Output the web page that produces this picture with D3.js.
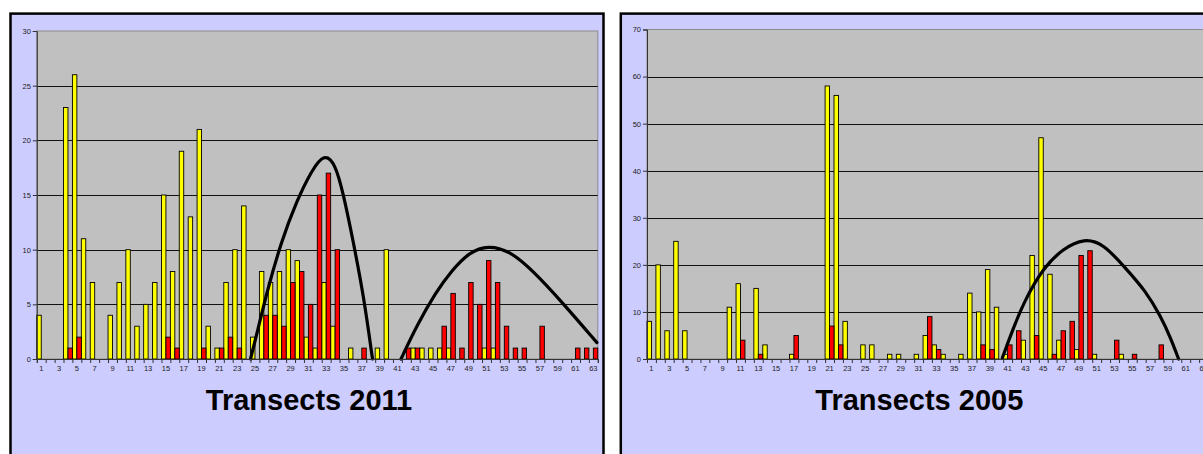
<!DOCTYPE html>
<html lang="en">
<head>
<meta charset="UTF-8"/>
<title>Transects 2011 / 2005</title>
<script src="https://d3js.org/d3.v7.min.js"></script>
<style>
  body { margin: 0; background: #fff; }
  svg text { font-family: "Liberation Sans", Arial, sans-serif; }
</style>
</head>
<body>
<script>
    // transect numbers along the x axis
    var categories = [1,2,3,4,5,6,7,8,9,10,11,12,13,14,15,16,17,18,19,20,
                      21,22,23,24,25,26,27,28,29,30,31,32,33,34,35,36,37,38,39,40,
                      41,42,43,44,45,46,47,48,49,50,51,52,53,54,55,56,57,58,59,60,
                      61,62,63];
    var xLabels = [1,3,5,7,9,11,13,15,17,19,21,23,25,27,29,31,33,35,37,39,41,43,45,47,49,51,53,55,57,59,61,63];
    var yTicks2011 = [0, 5, 10, 15, 20, 25, 30];
    var yTicks2005 = [0, 10, 20, 30, 40, 50, 60, 70];

    // 2011
    var yellow2011 = [4,0,0,23,26,11,7,0,4,7, 10,3,5,7,15,8,19,13,21,3,
                      1,7,10,14,2,8,7,8,10,9, 2,1,7,3,0,1,0,0,1,10,
                      0,0,1,1,1,1,1,0,0,0, 1,1,0,0,0,0,0,0,0,0, 0,0,0];
    var red2011 =    [0,0,0,1,2,0,0,0,0,0, 0,0,0,0,2,1,0,0,1,0,
                      1,2,1,0,0,4,4,3,7,8, 5,15,17,10,0,0,1,0,0,0,
                      0,1,1,0,0,3,6,1,7,5, 9,7,3,1,1,0,3,0,0,0, 1,1,1];
    // 2005
    var yellow2005 = [8,20,6,25,6,0,0,0,0,11, 16,0,15,3,0,0,1,0,0,0,
                      58,56,8,0,3,3,0,1,1,0, 1,5,3,1,0,1,14,10,19,11,
                      1,0,4,22,47,18,4,0,2,0, 1,0,0,1,0,0,0,0,0,0, 0,0,0];
    var red2005 =    [0,0,0,0,0,0,0,0,0,0, 4,0,1,0,0,0,5,0,0,0,
                      7,3,0,0,0,0,0,0,0,0, 0,9,2,0,0,0,0,3,2,0,
                      3,6,0,5,0,1,6,8,22,23, 0,0,4,0,1,0,0,3,0,0, 0,0,0];

    // hand drawn arcs, control points as [transect, count]
    var arc2011a = [[24.5,0],[25.3,2.6],[26.4,6.3],[27.9,10.6],[29.7,14.5],[31.4,17.3],
                    [32.8,18.8],[34.0,17.9],[34.9,15.2],[36.0,10.9],[37.2,5.8],[38.2,0]];
    var arc2011b = [[41.4,0],[43.2,3.1],[45.3,6.1],[47.1,8.1],[49.1,9.8],[51.2,10.4],
                    [53.6,9.9],[56.2,8.1],[59.6,5.1],[63.4,1.5]];
    var arc2005 =  [[40.4,0.2],[41.4,5.4],[42.9,12.5],[45.1,19.6],[47.2,23.4],[49.6,25.7],
                    [51.8,24.4],[54.0,19.8],[56.5,14.5],[58.2,9.0],[59.3,4.5],[60.2,0]];

    var w = 1203, h = 454;
    var base = 359;       // y of the zero line
    var plotW = 561;

    var svg = d3.select("body")
                .append("svg")
                .attr("width", w)
                .attr("height", h);

    function drawPanel(p) {
        var g = svg.append("g");

        g.append("rect")
         .attr("x", p.px).attr("y", 13.6)
         .attr("width", 593).attr("height", 470)
         .attr("fill", "#ccccff")
         .attr("stroke", "#000")
         .attr("stroke-width", 2.5);

        var xScale = d3.scaleBand()
                       .domain(categories)
                       .range([p.x0, p.x0 + plotW])
                       .padding(0);
        var xSub = d3.scaleBand()
                     .domain(["yellow", "red"])
                     .range([0, xScale.bandwidth()]);
        // continuous version of the transect axis for the arcs and ticks
        var xLin = d3.scaleLinear()
                     .domain([0.5, 63.5])
                     .range([p.x0, p.x0 + plotW]);
        var yScale = d3.scaleLinear()
                       .domain([0, p.yMax])
                       .range([base, p.top]);

        // plot area
        g.append("rect")
         .attr("x", p.x0).attr("y", p.top)
         .attr("width", plotW).attr("height", base - p.top)
         .attr("fill", "#c0c0c0")
         .attr("stroke", "#8a8a8a")
         .attr("stroke-width", 1);

        g.selectAll(".grid")
         .data(p.ticks.slice(1, -1))
         .enter()
         .append("line")
         .attr("x1", p.x0).attr("x2", p.x0 + plotW)
         .attr("y1", function(d) { return Math.round(yScale(d)) + 0.5; })
         .attr("y2", function(d) { return Math.round(yScale(d)) + 0.5; })
         .attr("stroke", "#111")
         .attr("stroke-width", 1);

        var rows = categories.map(function(c, i) {
            return { c: c, yellow: p.yellow[i], red: p.red[i] };
        });

        ["yellow", "red"].forEach(function(key) {
            g.selectAll(".bar-" + key)
             .data(rows.filter(function(d) { return d[key] > 0; }))
             .enter()
             .append("rect")
             .attr("x", function(d) { return xScale(d.c) + xSub(key); })
             .attr("y", function(d) { return yScale(d[key]); })
             .attr("width", xSub.bandwidth())
             .attr("height", function(d) { return base - yScale(d[key]); })
             .attr("fill", key === "yellow" ? "#ffff00" : "#ff0000")
             .attr("stroke", "#000")
             .attr("stroke-width", 0.9);
        });

        // arcs (smooth B-spline through the control points)
        var line = d3.line()
                     .x(function(d) { return xLin(d[0]); })
                     .y(function(d) { return yScale(d[1]); })
                     .curve(d3.curveBasis);
        p.arcs.forEach(function(a) {
            g.append("path")
             .attr("d", line(a))
             .attr("fill", "none")
             .attr("stroke", "#000")
             .attr("stroke-width", 3.2)
             .attr("stroke-linecap", "round");
        });

        // y axis
        var yAxis = d3.axisLeft(yScale)
                      .tickValues(p.ticks)
                      .tickSize(4)
                      .tickPadding(2);
        var ya = g.append("g")
                  .attr("transform", "translate(" + p.x0 + ",0)")
                  .call(yAxis);

        // x axis: ticks between transects, labels on odd ones
        var xa = g.append("g")
                  .attr("transform", "translate(0," + base + ")")
                  .call(d3.axisBottom(xLin)
                          .tickValues(categories.map(function(c) { return c - 0.5; }).concat([63.5]))
                          .tickSize(4)
                          .tickFormat(""));
        var xl = g.append("g")
                  .attr("transform", "translate(0," + base + ")")
                  .call(d3.axisBottom(xScale)
                          .tickValues(xLabels)
                          .tickSize(0)
                          .tickPadding(7));
        xl.select(".domain").remove();

        [ya, xa].forEach(function(a) {
            a.select(".domain").attr("stroke", "#333");
            a.selectAll(".tick line").attr("stroke", "#333");
        });
        [ya, xl].forEach(function(a) {
            a.selectAll("text")
             .attr("fill", "#222")
             .style("font-size", "7.5px")
             .style("font-family", "'Liberation Sans', Arial, sans-serif");
        });

        g.append("text")
         .attr("x", p.px + 296.5 + 2)
         .attr("y", 410)
         .attr("text-anchor", "middle")
         .style("font-size", "29px")
         .style("font-weight", "bold")
         .attr("fill", "#000")
         .text(p.title);
    }

    drawPanel({ px: 10.5, x0: 36.8, top: 31, yMax: 30, ticks: yTicks2011,
                yellow: yellow2011, red: red2011, arcs: [arc2011a, arc2011b],
                title: "Transects 2011" });
    drawPanel({ px: 620.8, x0: 647, top: 29.5, yMax: 70, ticks: yTicks2005,
                yellow: yellow2005, red: red2005, arcs: [arc2005],
                title: "Transects 2005" });
</script>
</body>
</html>
